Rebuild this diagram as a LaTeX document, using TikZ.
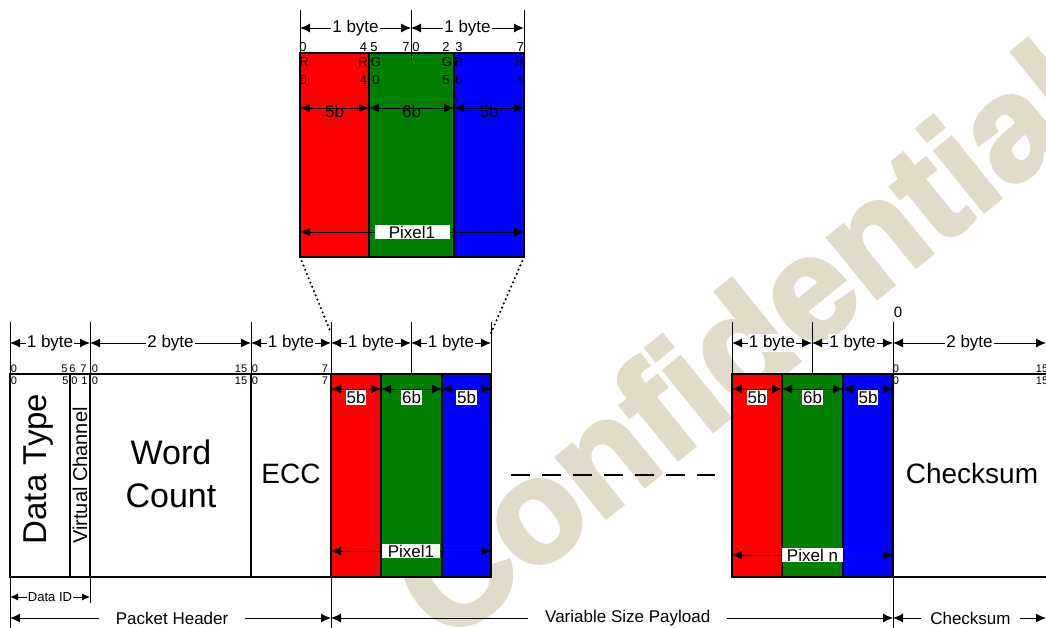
\documentclass[tikz,border=0pt]{standalone}
\usepackage{fontspec}
\setmainfont{Liberation Sans}
\newfontfamily\wmfont{Liberation Sans}[BoldFeatures={FakeBold=3}]
\usetikzlibrary{arrows.meta,positioning}
\definecolor{pxred}{RGB}{255,0,0}
\definecolor{pxgreen}{RGB}{0,128,0}
\definecolor{pxblue}{RGB}{0,0,255}
\definecolor{wmark}{RGB}{224,220,201}
\newcommand{\fsz}[1]{\fontsize{#1pt}{#1pt}\selectfont}
\tikzset{
  fld/.style={draw,line width=2.4pt,fill=white,inner sep=0pt,outer sep=0pt,minimum height=203pt},
  zfld/.style={fld,minimum height=204pt},
  tick/.style={line width=0.9pt},
  dimarr/.style={{Latex[length=10pt,width=9pt]}-{Latex[length=10pt,width=9pt]},line width=0.9pt},
  smarr/.style={{Latex[length=8pt,width=7pt]}-{Latex[length=8pt,width=7pt]},line width=0.8pt},
  lab/.style={fill=white,inner sep=1pt,font=\fsz{17}},
  bitno/.style={inner sep=0pt,font=\fsz{11},anchor=base},
  zbit/.style={inner sep=0pt,font=\fsz{13},anchor=base},
  bigtxt/.style={inner sep=0pt,font=\fsz{28}},
  dots/.style={line width=2.4pt,line cap=round,dash pattern=on 0pt off 4.6pt},
  wmk/.style={text=wmark,font=\wmfont\bfseries\fsz{146},rotate=39,inner sep=0pt},
}
\begin{document}
\begin{tikzpicture}[x=1pt,y=-1pt]
  \path[use as bounding box,fill=white] (0,0) rectangle (1046,628);
  \node[wmk] (wm) at (742,340) {Confidential};

  % zoomed pixel
  \node[zfld,fill=pxred,minimum width=69pt,anchor=north west] (zr) at (300,53) {};
  \node[zfld,fill=pxgreen,minimum width=85pt,right=0pt of zr] (zg) {};
  \node[zfld,fill=pxblue,minimum width=70pt,right=0pt of zg] (zb) {};
  \foreach \n/\x in {0/300,1/411,2/524} {
    \coordinate (zt\n) at (\x,10);
    \coordinate (za\n) at (\x,28);
  }
  \coordinate (zt1b) at (411,60);
  \draw[tick] (zt0) -- (zr.north west);
  \draw[tick] (zt1) -- (zt1b);
  \draw[tick] (zt2) -- (zb.north east);
  \draw[dimarr] (za0) -- node[lab]{1 byte} (za1);
  \draw[dimarr] (za1) -- node[lab]{1 byte} (za2);
  \foreach \x/\t [count=\i] in {303/0,363.5/4,374/5,406/7,416/0,446/2,459/3,520.5/7}
    \node[zbit] (zn\i) at (\x,51.5) {\t};
  \foreach \x/\t [count=\i] in {304/R,363/R,376/G,447/G,459/B,519/B}
    \node[zbit] (zc\i) at (\x,67) {\t};
  \foreach \x/\t [count=\i] in {303.5/0,363.5/4,376/0,446/5,459/0,520/4}
    \node[zbit] (zd\i) at (\x,85) {\t};
  \foreach \n/\x in {0/300,1/369,2/454,3/524}
    \coordinate (zw\n) at (\x,108);
  \draw[dimarr] (zw0) -- node[inner sep=0pt,font=\fsz{17},yshift=-3pt]{5b} (zw1);
  \draw[dimarr] (zw1) -- node[inner sep=0pt,font=\fsz{17},yshift=-3pt]{6b} (zw2);
  \draw[dimarr] (zw2) -- node[inner sep=0pt,font=\fsz{17},yshift=-3pt]{5b} (zw3);
  \coordinate (zp0) at (300,232);
  \coordinate (zp1) at (524,232);
  \draw[dimarr] (zp0) -- node[lab,minimum width=75pt]{Pixel1} (zp1);

  % packet
  \node[fld,minimum width=60pt,anchor=north west] (dt) at (10,374) {};
  \node[fld,minimum width=20pt,right=0pt of dt] (vc) {};
  \node[fld,minimum width=161pt,right=0pt of vc] (wc) {};
  \node[fld,minimum width=80pt,right=0pt of wc] (ecc) {};
  \node[fld,fill=pxred,minimum width=50pt,right=0pt of ecc] (r1) {};
  \node[fld,fill=pxgreen,minimum width=61pt,right=0pt of r1] (g1) {};
  \node[fld,fill=pxblue,minimum width=49pt,right=0pt of g1] (b1) {};
  \node[fld,fill=pxred,minimum width=50pt,anchor=north west] (rn) at (732,374) {};
  \node[fld,fill=pxgreen,minimum width=61pt,right=0pt of rn] (gn) {};
  \node[fld,fill=pxblue,minimum width=50pt,right=0pt of gn] (bn) {};
  \node[fld,minimum width=170pt,right=0pt of bn] (cs) {};

  \node[rotate=90,inner sep=0pt,font=\fsz{33}] (dtl) at (39,469) {Data Type};
  \node[rotate=90,inner sep=0pt,font=\fsz{20}] (vcl) at (vc.center) {Virtual Channel};
  \node[align=center,inner sep=0pt,font=\fontsize{34pt}{43pt}\selectfont] (wcl) at (171,474) {Word\\Count};
  \node[bigtxt] (eccl) at (291,474) {ECC};
  \node[bigtxt] (csl) at (972,473) {Checksum};

  \foreach \n/\x in {a/10,b/90,c/251,d/331,e/411,f/491,g/732,h/812,i/893} {
    \coordinate (pt\n) at (\x,322);
    \coordinate (pb\n) at (\x,374);
    \coordinate (pa\n) at (\x,343);
    \draw[tick] (pt\n) -- (pb\n);
  }
  \coordinate (paj) at (1046,343);
  \draw[dimarr] (paa) -- node[lab]{1 byte} (pab);
  \draw[dimarr] (pab) -- node[lab]{2 byte} (pac);
  \draw[dimarr] (pac) -- node[lab]{1 byte} (pad);
  \draw[dimarr] (pad) -- node[lab]{1 byte} (pae);
  \draw[dimarr] (pae) -- node[lab]{1 byte} (paf);
  \draw[dimarr] (pag) -- node[lab]{1 byte} (pah);
  \draw[dimarr] (pah) -- node[lab]{1 byte} (pai);
  \draw[dimarr] (pai) -- node[lab]{2 byte} (paj);
  \node[inner sep=0pt,font=\fsz{15}] (zero) at (898,312) {0};

  \foreach \x/\t [count=\i] in {14/0,64.5/5,72.5/6,83.5/7,95/0,241/15,255/0,325/7,896/0,1042/15}
    \node[bitno] (bu\i) at (\x,372) {\t};
  \foreach \x/\t [count=\i] in {14/0,65.5/5,74.5/0,84.5/1,95/0,241/15,255/0,325/7,896/0,1042/15}
    \node[bitno] (bl\i) at (\x,384) {\t};

  \foreach \n/\x in {0/331,1/381,2/442,3/491,4/732,5/782,6/843,7/893}
    \coordinate (cw\n) at (\x,389);
  \draw[dimarr] (cw0) -- node[lab,anchor=north,yshift=-1pt]{5b} (cw1);
  \draw[dimarr] (cw1) -- node[lab,anchor=north,yshift=-1pt]{6b} (cw2);
  \draw[dimarr] (cw2) -- node[lab,anchor=north,yshift=-1pt]{5b} (cw3);
  \draw[dimarr] (cw4) -- node[lab,anchor=north,yshift=-1pt]{5b} (cw5);
  \draw[dimarr] (cw5) -- node[lab,anchor=north,yshift=-1pt]{6b} (cw6);
  \draw[dimarr] (cw6) -- node[lab,anchor=north,yshift=-1pt]{5b} (cw7);

  \coordinate (p1a) at (331,551);
  \coordinate (p1b) at (491,551);
  \coordinate (pna) at (732,555);
  \coordinate (pnb) at (893,555);
  \draw[dimarr] (p1a) -- node[lab,minimum width=58pt]{Pixel1} (p1b);
  \draw[dimarr] (pna) -- node[lab,minimum width=61pt]{Pixel n} (pnb);

  \coordinate (dsa) at (511,475);
  \coordinate (dsb) at (715,475);
  \draw[line width=2pt,dash pattern=on 19pt off 12pt] (dsa) -- (dsb);

  \coordinate (dl) at (331,333);
  \coordinate (dr) at (491,333);
  \draw[dots] (zr.south west) -- (dl);
  \draw[dots] (zb.south east) -- (dr);

  % bottom spans
  \foreach \n/\x/\y in {a/10/628,b/90/603,d/331/628,i/893/628} {
    \coordinate (bb\n) at (\x,\y);
    \draw[tick] (\x,577) -- (bb\n);
  }
  \coordinate (di0) at (10,597);
  \coordinate (di1) at (90,597);
  \draw[smarr] (di0) -- node[fill=white,inner sep=1pt,font=\fsz{13}]{Data ID} (di1);
  \foreach \n/\x in {0/10,1/331,2/893,3/1046}
    \coordinate (sp\n) at (\x,618);
  \draw[dimarr] (sp0) -- node[lab,inner xsep=17pt,pos=0.505]{Packet Header} (sp1);
  \draw[dimarr] (sp1) -- node[lab,inner xsep=17pt,pos=0.528]{Variable Size Payload} (sp2);
  \draw[dimarr] (sp2) -- node[lab,inner xsep=9pt,pos=0.506]{Checksum} (sp3);
\end{tikzpicture}
\end{document}
